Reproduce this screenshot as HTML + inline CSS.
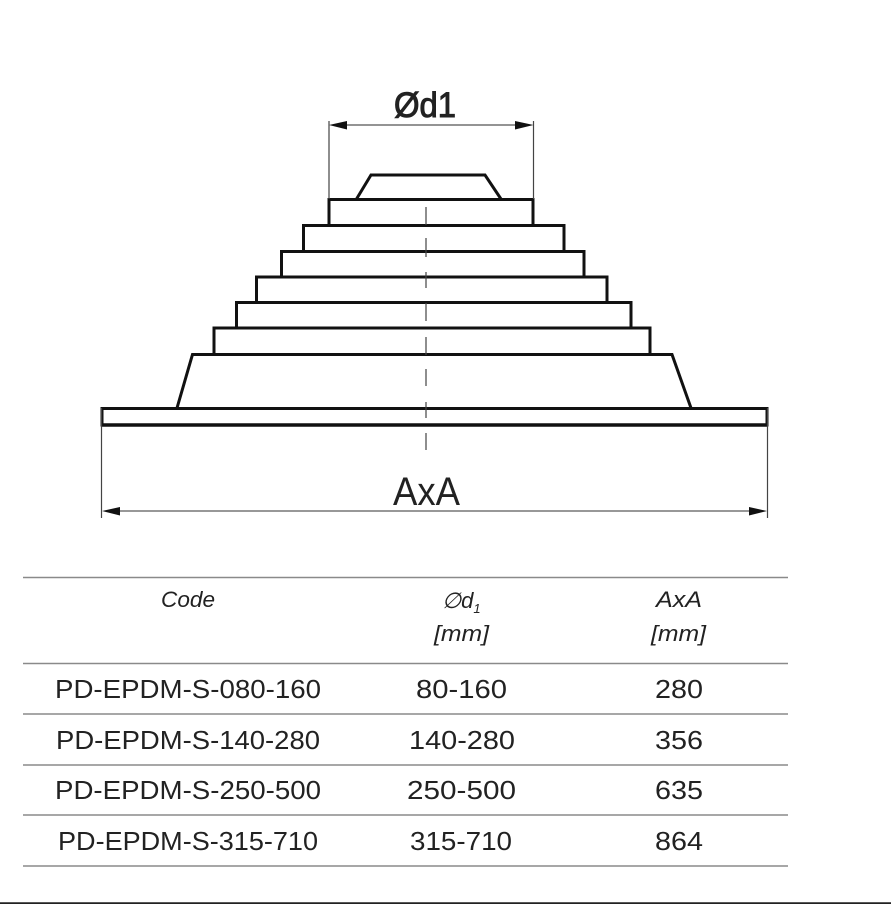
<!DOCTYPE html>
<html>
<head>
<meta charset="utf-8">
<style>
html,body{margin:0;padding:0;background:#fff;width:891px;height:904px;overflow:hidden}
svg{display:block}
text{font-family:"Liberation Sans",sans-serif;fill:#222}
.r{font-size:26px;text-anchor:start}
.h{font-size:22px;font-style:italic}
</style>
</head>
<body>
<svg width="891" height="904" viewBox="0 0 891 904" xmlns="http://www.w3.org/2000/svg">
<rect width="891" height="904" fill="#fff"/>
<g fill="none" stroke="#111" stroke-width="3">
<path d="M356.500 199 L371 175 H485 L501 199"/>
<rect x="329" y="199.500" width="204" height="26"/>
<rect x="303.500" y="225.500" width="260.500" height="26"/>
<rect x="281.500" y="251.500" width="302.500" height="25.500"/>
<rect x="256.500" y="277" width="350.500" height="25.500"/>
<rect x="236.500" y="302.500" width="394.500" height="25.500"/>
<rect x="214" y="328" width="436" height="26.500"/>
<path d="M177 408 L192.500 354.500 H672 L691 408"/>
<path d="M102 408.500 H767 V425 H102 Z"/>
<path d="M102 425 H767" stroke-width="3.600"/>
</g>
<g stroke="#444" stroke-width="1.200" fill="none">
<path d="M426 207V225M426 238V257M426 272V288M426 303V321M426 337V355M426 369V386M426 402V418M426 433V450"/>
<path d="M329 121V199M533.500 121V199"/>
<path d="M101.500 408V518M767.500 408V518"/>
</g>
<path d="M345 125H516" stroke="#555" stroke-width="1.200"/>
<path d="M118 511H750" stroke="#777" stroke-width="1.500"/>
<path d="M329 125L347 121V129.500Z M533.500 125L515 121V129.500Z" fill="#111"/>
<path d="M102 511L120 507V515.500Z M767 511L749 507V515.500Z" fill="#111"/>
<text x="394" y="117" font-size="35" stroke="#222" stroke-width="1" textLength="62" lengthAdjust="spacingAndGlyphs">Ød1</text>
<text x="393" y="505" font-size="40" textLength="67" lengthAdjust="spacingAndGlyphs">AxA</text>
<g stroke="#8a8a8a" stroke-width="1.500">
<path d="M23 577.500H788M23 663.500H788M23 714H788M23 765H788M23 815H788M23 866H788"/>
</g>
<path d="M0 903.200H891" stroke="#222" stroke-width="2"/>
<text class="h" x="161" y="607" textLength="54" lengthAdjust="spacingAndGlyphs">Code</text>
<text class="h" x="442" y="608">∅d<tspan font-size="13" dy="5">1</tspan></text>
<text class="h" x="434" y="641" textLength="55" lengthAdjust="spacingAndGlyphs">[mm]</text>
<text class="h" x="656" y="607" textLength="46" lengthAdjust="spacingAndGlyphs">AxA</text>
<text class="h" x="651" y="641" textLength="55" lengthAdjust="spacingAndGlyphs">[mm]</text>
<text class="r" x="55" y="698" textLength="266" lengthAdjust="spacingAndGlyphs">PD-EPDM-S-080-160</text>
<text class="r" x="416" y="698" textLength="91" lengthAdjust="spacingAndGlyphs">80-160</text>
<text class="r" x="655" y="698" textLength="48" lengthAdjust="spacingAndGlyphs">280</text>
<text class="r" x="56" y="749" textLength="264" lengthAdjust="spacingAndGlyphs">PD-EPDM-S-140-280</text>
<text class="r" x="409" y="749" textLength="106" lengthAdjust="spacingAndGlyphs">140-280</text>
<text class="r" x="655" y="749" textLength="48" lengthAdjust="spacingAndGlyphs">356</text>
<text class="r" x="55" y="799" textLength="266" lengthAdjust="spacingAndGlyphs">PD-EPDM-S-250-500</text>
<text class="r" x="407" y="799" textLength="109" lengthAdjust="spacingAndGlyphs">250-500</text>
<text class="r" x="655" y="799" textLength="48" lengthAdjust="spacingAndGlyphs">635</text>
<text class="r" x="58" y="850" textLength="260" lengthAdjust="spacingAndGlyphs">PD-EPDM-S-315-710</text>
<text class="r" x="410" y="850" textLength="102" lengthAdjust="spacingAndGlyphs">315-710</text>
<text class="r" x="655" y="850" textLength="48" lengthAdjust="spacingAndGlyphs">864</text>
</svg>
</body>
</html>
